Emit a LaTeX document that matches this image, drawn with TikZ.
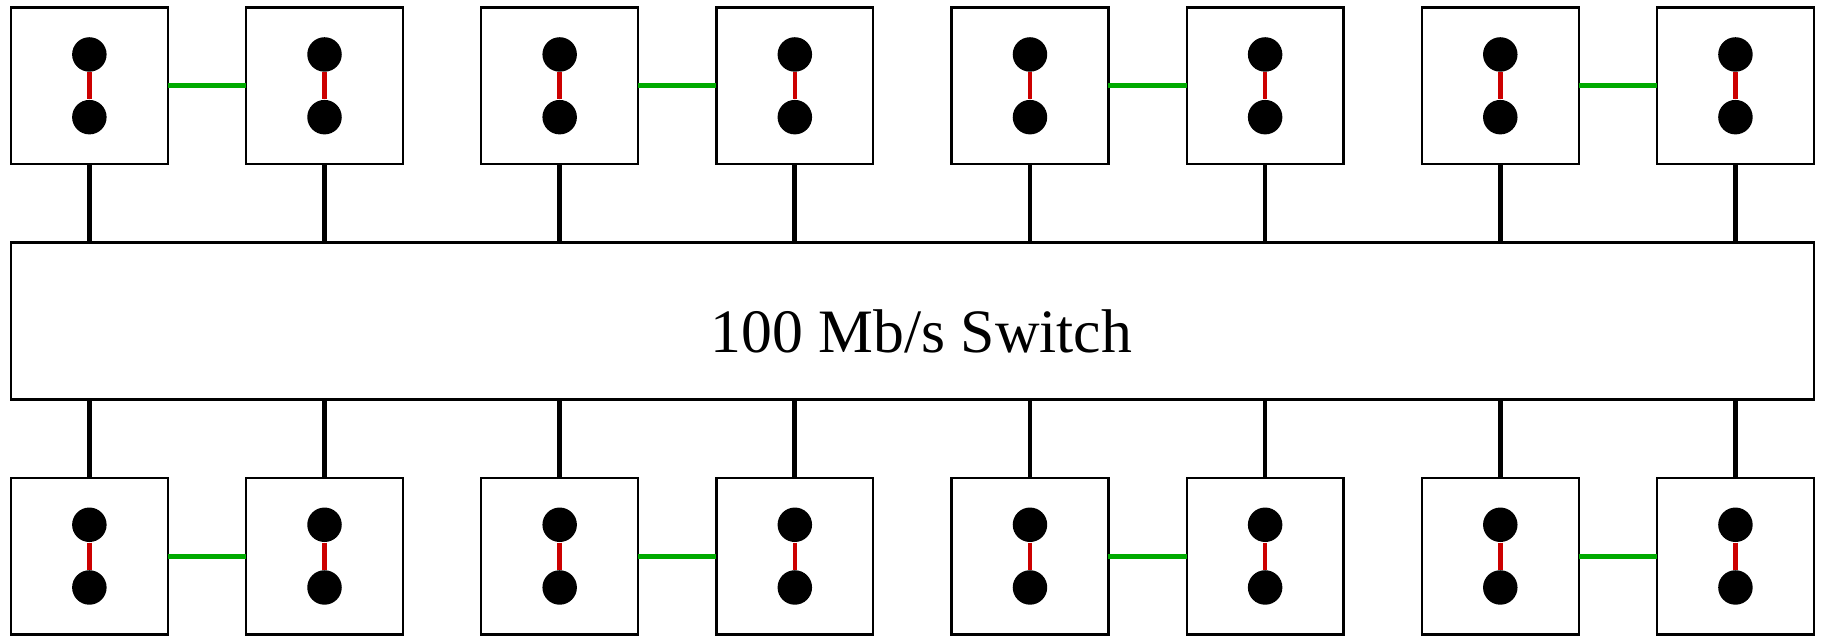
\documentclass[tikz,border=0pt]{standalone}
\usepackage{fontspec}
\setmainfont{Liberation Serif}
\usepackage{tikz}
\usetikzlibrary{positioning, calc}
\definecolor{linkred}{RGB}{204,0,0}
\definecolor{pairgreen}{RGB}{0,170,0}
\tikzset{
  host/.style={rectangle, draw, line width=0.85pt, outer sep=0pt,
               minimum width=2cm, minimum height=2cm, inner sep=0pt},
  switchbox/.style={rectangle, draw, line width=0.85pt, outer sep=0pt,
               minimum width=23cm, minimum height=2cm,
               text height=0.81cm, text depth=0pt,
               font=\fontsize{22.4}{27}\selectfont},
  cpu/.style={circle, fill=black, minimum size=0.44cm, inner sep=0pt},
  intra/.style={linkred, line width=1.6pt},
  pair/.style={pairgreen, line width=1.8pt},
  wire/.style={black, line width=1.7pt},
}

\begin{document}
\begin{tikzpicture}[node distance=1cm]
  \useasboundingbox (0,0) rectangle (23.27,8.125);
  % upper row of hosts
  \node[host] (t1) at (1.14,7.03) {};
  \node[host, right=of t1] (t2) {};
  \node[host, right=of t2] (t3) {};
  \node[host, right=of t3] (t4) {};
  \node[host, right=of t4] (t5) {};
  \node[host, right=of t5] (t6) {};
  \node[host, right=of t6] (t7) {};
  \node[host, right=of t7] (t8) {};
  % switch
  \node[switchbox, below=of t1.south west, anchor=north west] (sw) {\hspace*{0.23cm}100 Mb/s Switch};
  % lower row of hosts
  \node[host, below=4cm of t1] (b1) {};
  \node[host, right=of b1] (b2) {};
  \node[host, right=of b2] (b3) {};
  \node[host, right=of b3] (b4) {};
  \node[host, right=of b4] (b5) {};
  \node[host, right=of b5] (b6) {};
  \node[host, right=of b6] (b7) {};
  \node[host, right=of b7] (b8) {};
  % two processors per host
  \foreach \h in {t1,t2,t3,t4,t5,t6,t7,t8,b1,b2,b3,b4,b5,b6,b7,b8} {
    \node[cpu] (\h-a) at ($(\h)+(0,0.4)$) {};
    \node[cpu] (\h-b) at ($(\h)+(0,-0.4)$) {};
    \draw[intra] (\h-a) -- (\h-b);
  }
  % links inside a pair
  \draw[pair] (t1) -- (t2);
  \draw[pair] (t3) -- (t4);
  \draw[pair] (t5) -- (t6);
  \draw[pair] (t7) -- (t8);
  \draw[pair] (b1) -- (b2);
  \draw[pair] (b3) -- (b4);
  \draw[pair] (b5) -- (b6);
  \draw[pair] (b7) -- (b8);
  % uplinks to the switch
  \foreach \h in {t1,t2,t3,t4,t5,t6,t7,t8}
    \draw[wire] (\h) -- (\h |- sw.north);
  \foreach \h in {b1,b2,b3,b4,b5,b6,b7,b8}
    \draw[wire] (\h) -- (\h |- sw.south);
\end{tikzpicture}
\end{document}
